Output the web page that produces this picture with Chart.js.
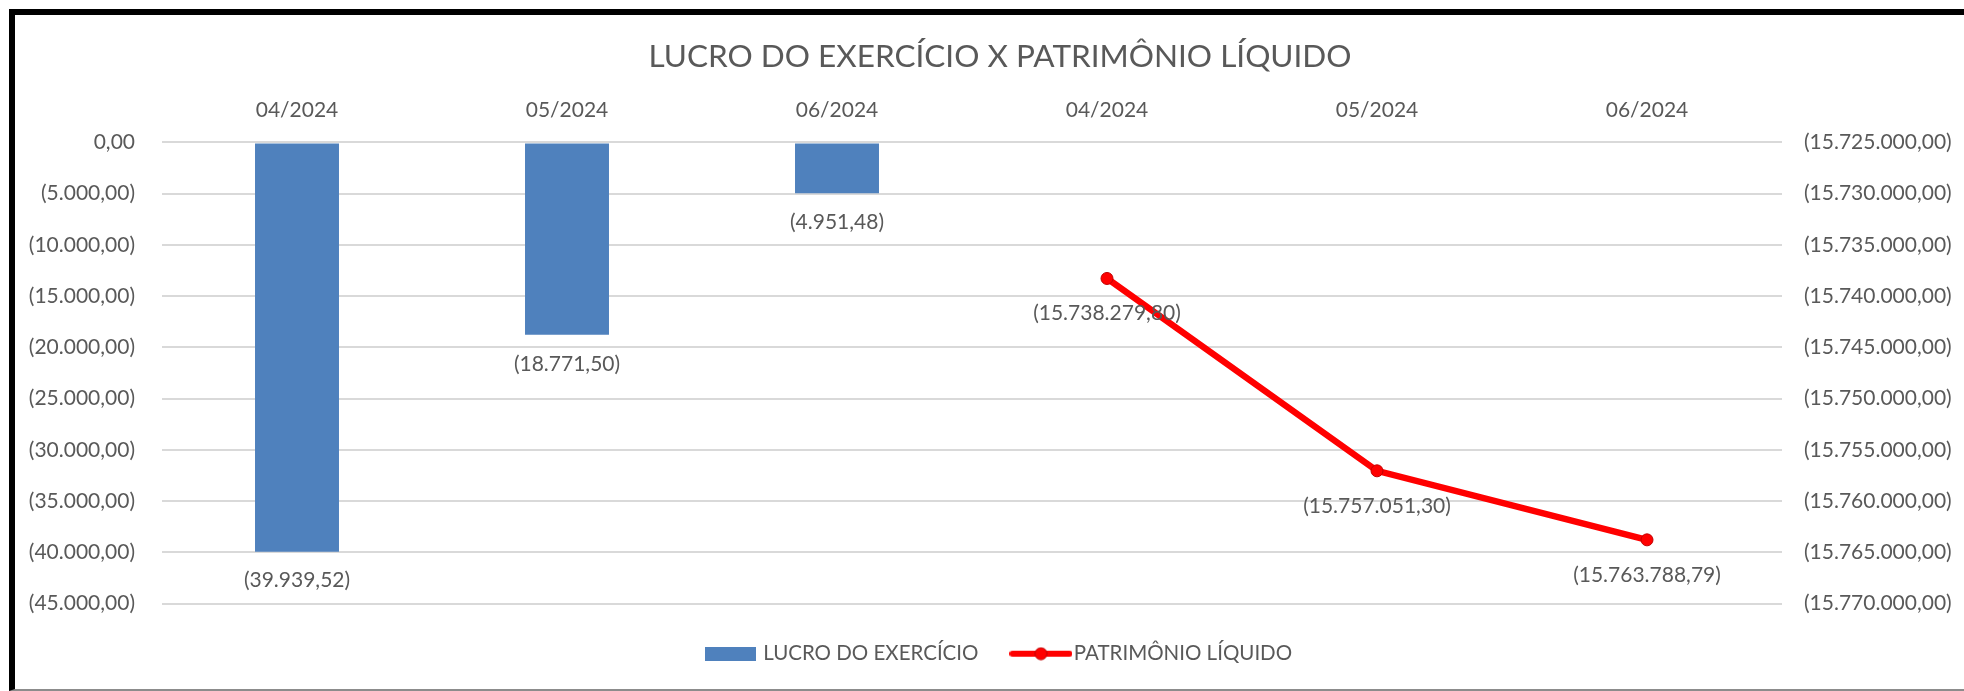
<!DOCTYPE html>
<html>
<head>
<meta charset="utf-8">
<script src="https://cdn.jsdelivr.net/npm/chart.js@4/dist/chart.umd.min.js"></script>
<style>
  html, body { margin: 0; padding: 0; background: #fff; overflow: hidden; }
  #wrap { position: relative; width: 1964px; height: 691px; overflow: hidden; }
  #frame {
    position: absolute; left: 9px; top: 9px; width: 1955px; height: 682px;
    box-sizing: border-box; pointer-events: none;
    border-left: 6px solid #000; border-top: 6px solid #000; border-bottom: 2px solid #8c8c8c;
  }
  canvas { position: absolute; left: 0; top: 0; }
</style>
</head>
<body>
<div id="wrap">
  <!-- canvas runs 36px past the right edge so title and legend centre where the original's did -->
  <canvas id="chart" width="2000" height="691"></canvas>
  <div id="frame"></div>
</div>
<script>
const categories = ["04/2024", "05/2024", "06/2024", "04/2024", "05/2024", "06/2024"];
const lucroValues = [-39939.52, -18771.50, -4951.48, null, null, null];
const patrimonioValues = [null, null, null, -15738279.80, -15757051.30, -15763788.79];

const leftMin = -45000, leftMax = 0, leftStep = 5000;
const rightMin = -15770000, rightMax = -15725000, rightStep = 5000;

const textColor = "#595959";
const fontFamily = "Lato, 'Open Sans', sans-serif";
const blue = "#4f81bd";
const red = "#ff0000";

// 1234.5 -> "1.234,50", negatives in parentheses like the spreadsheet
function fmt(v) {
  const parts = Math.abs(v).toFixed(2).split(".");
  const intPart = parts[0].replace(/\B(?=(\d{3})+(?!\d))/g, ".");
  const s = intPart + "," + parts[1];
  return v < 0 ? "(" + s + ")" : s;
}

// legend swatches, one per dataset index
function barSwatch() {
  const c = document.createElement("canvas");
  c.width = 51; c.height = 14;
  const g = c.getContext("2d");
  g.fillStyle = blue;
  g.fillRect(0, 0, 51, 14);
  return c;
}
function lineSwatch() {
  const c = document.createElement("canvas");
  c.width = 63; c.height = 14;
  const g = c.getContext("2d");
  g.strokeStyle = red;
  g.lineWidth = 6;
  g.lineCap = "round";
  g.beginPath(); g.moveTo(3, 7); g.lineTo(60, 7); g.stroke();
  g.fillStyle = red;
  g.beginPath(); g.arc(31.5, 7, 6, 0, Math.PI * 2); g.fill();
  g.strokeStyle = "#c00000"; g.lineWidth = 1; g.stroke();
  return c;
}
const swatches = [barSwatch(), lineSwatch()];

// labels under bar ends and line points
const valueLabels = {
  id: "valueLabels",
  afterDatasetsDraw(chart) {
    const ctx = chart.ctx;
    ctx.save();
    ctx.font = "21px " + fontFamily;
    ctx.fillStyle = textColor;
    ctx.textAlign = "center";
    ctx.textBaseline = "middle";
    chart.data.datasets.forEach((ds, i) => {
      const meta = chart.getDatasetMeta(i);
      meta.data.forEach((el, j) => {
        const v = ds.data[j];
        if (v === null || v === undefined) return;
        const off = ds.type === "line" ? 35 : 29;
        ctx.fillText(fmt(v), el.x, el.y + off);
      });
    });
    ctx.restore();
  },
};

const config = {
  type: "bar",
  data: {
    labels: categories,
    datasets: [
      {
        label: "LUCRO DO EXERCÍCIO",
        data: lucroValues,
        backgroundColor: blue,
        yAxisID: "y",
        barPercentage: 0.311,
        categoryPercentage: 1,
      },
      {
        type: "line",
        label: "PATRIMÔNIO LÍQUIDO",
        data: patrimonioValues,
        borderColor: red,
        backgroundColor: red,
        borderWidth: 6.5,
        pointRadius: 6,
        pointBackgroundColor: red,
        pointBorderColor: "#c00000",
        pointBorderWidth: 1,
        yAxisID: "y1",
      },
    ],
  },
  options: {
    responsive: false,
    animation: false,
    layout: { padding: { left: 0, right: 0, top: 0, bottom: 17 } },
    scales: {
      x: {
        position: "top",
        grid: { display: false },
        border: { display: false },
        ticks: { color: textColor, font: { size: 21, family: fontFamily }, padding: 12 },
        afterFit: (s) => { s.height = 58.6; },
      },
      y: {
        position: "left",
        min: leftMin,
        max: leftMax,
        grid: { color: "#d9d9d9", lineWidth: 2, drawTicks: false },
        border: { display: false },
        ticks: {
          stepSize: leftStep,
          color: textColor,
          font: { size: 21, family: fontFamily },
          padding: 27,
          callback: (v) => fmt(v),
        },
        afterFit: (s) => { s.width = 162; },
      },
      y1: {
        position: "right",
        min: rightMin,
        max: rightMax,
        grid: { drawOnChartArea: false, drawTicks: false },
        border: { display: false },
        ticks: {
          stepSize: rightStep,
          color: textColor,
          font: { size: 21, family: fontFamily },
          padding: 22,
          callback: (v) => fmt(v),
        },
        afterFit: (s) => { s.width = 218; },
      },
    },
    plugins: {
      title: {
        display: true,
        text: "LUCRO DO EXERCÍCIO X PATRIMÔNIO LÍQUIDO",
        color: textColor,
        font: { size: 31.5, weight: "normal", family: fontFamily },
        padding: { top: 38, bottom: 8 },
      },
      legend: {
        position: "bottom",
        labels: {
          color: textColor,
          font: { size: 20.5, family: fontFamily },
          usePointStyle: true,
          pointStyleWidth: 45,
          padding: 40,
          generateLabels: (chart) => {
            const items = Chart.defaults.plugins.legend.labels.generateLabels(chart);
            items.forEach((it) => { it.pointStyle = swatches[it.datasetIndex]; });
            return items.sort((a, b) => a.datasetIndex - b.datasetIndex);
          },
        },
      },
      tooltip: { enabled: false },
    },
  },
  plugins: [valueLabels],
};

const ctx = document.getElementById("chart").getContext("2d");
new Chart(ctx, config);
</script>
</body>
</html>
